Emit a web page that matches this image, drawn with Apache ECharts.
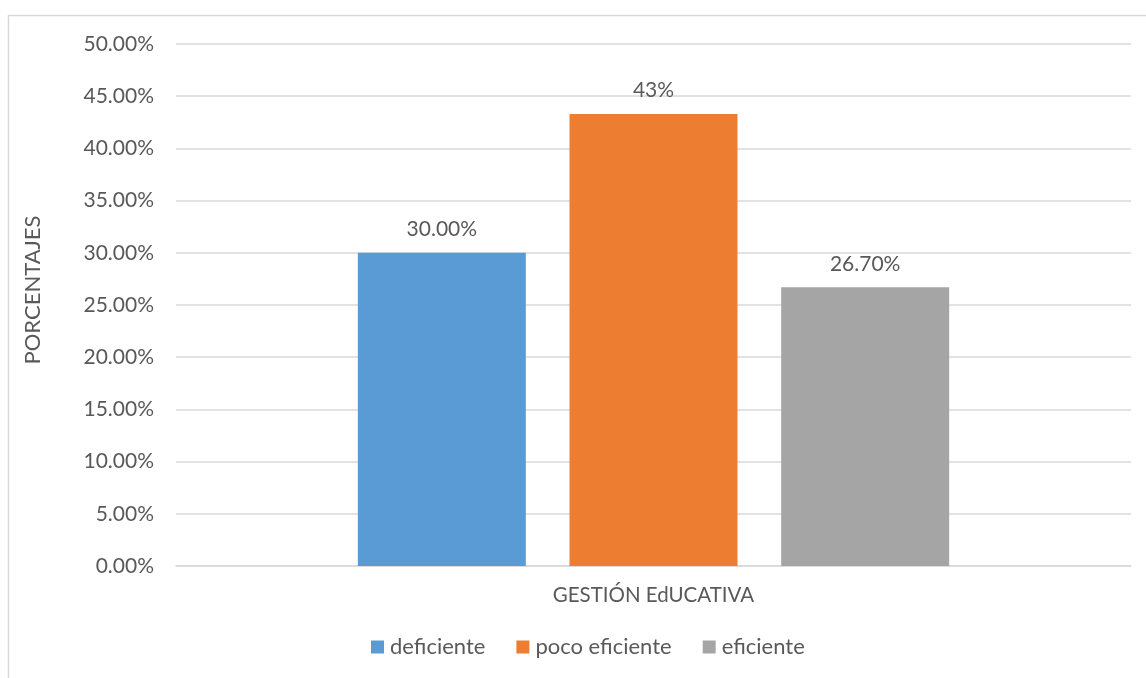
<!DOCTYPE html>
<html>
<head>
<meta charset="utf-8">
<script src="https://cdn.jsdelivr.net/npm/echarts@6/dist/echarts.min.js"></script>
<style>
  html, body { margin: 0; padding: 0; background: #fff; }
  #chart { width: 1146px; height: 678px; }
</style>
</head>
<body>
<div id="chart"></div>
<script>
// Single category, three result levels
const categories = ['GESTIÓN EdUCATIVA'];
const seriesNames = ['deficiente', 'poco eficiente', 'eficiente'];
const deficiente = [0.30];
const pocoEficiente = [0.433];
const eficiente = [0.267];
const labelDecimals = [2, 0, 2];
const colors = ['#5b9bd5', '#ed7d31', '#a5a5a5'];

const FONT = 'Lato';
const TEXT = '#595959';

const chart = echarts.init(document.getElementById('chart'));

const values = [deficiente, pocoEficiente, eficiente];

chart.setOption({
  animation: false,
  textStyle: { fontFamily: FONT },
  graphic: [{
    type: 'rect',
    silent: true,
    shape: { x: 8.5, y: 15.5, width: 1200, height: 700 },
    style: { fill: 'none', stroke: '#d9d9d9', lineWidth: 1.5 }
  }],
  grid: { left: 176, right: 15, top: 44, bottom: 112, containLabel: false },
  legend: {
    bottom: 15,
    left: 366,
    itemWidth: 13,
    itemHeight: 13,
    itemGap: 31,
    icon: 'rect',
    textStyle: { fontFamily: FONT, fontSize: 22, color: TEXT, padding: [0, 0, 0, 1] }
  },
  xAxis: {
    type: 'category',
    data: categories,
    axisTick: { show: false },
    axisLine: { lineStyle: { color: '#d9d9d9', width: 1.5 } },
    axisLabel: { fontFamily: FONT, fontSize: 20.5, color: TEXT, margin: 19 }
  },
  yAxis: {
    type: 'value',
    min: 0,
    max: 0.5,
    interval: 0.05,
    name: 'PORCENTAJES',
    nameLocation: 'middle',
    nameGap: 132,
    nameTextStyle: { fontFamily: FONT, fontSize: 22, color: TEXT, padding: [0, 0, 0, 30] },
    axisLine: { show: false },
    axisTick: { show: false },
    splitLine: { lineStyle: { color: '#d9d9d9', width: 1.5 } },
    axisLabel: {
      fontFamily: FONT, fontSize: 21, color: TEXT, margin: 22,
      formatter: v => (v * 100).toFixed(2) + '%'
    }
  },
  series: seriesNames.map((name, i) => ({
    name,
    type: 'bar',
    data: values[i],
    barWidth: 168,
    barGap: '26%',
    itemStyle: { color: colors[i] },
    label: {
      show: true,
      position: 'top',
      distance: 13,
      fontFamily: FONT,
      fontSize: 21,
      color: TEXT,
      formatter: p => (p.value * 100).toFixed(labelDecimals[i]) + '%'
    }
  }))
});
</script>
</body>
</html>
